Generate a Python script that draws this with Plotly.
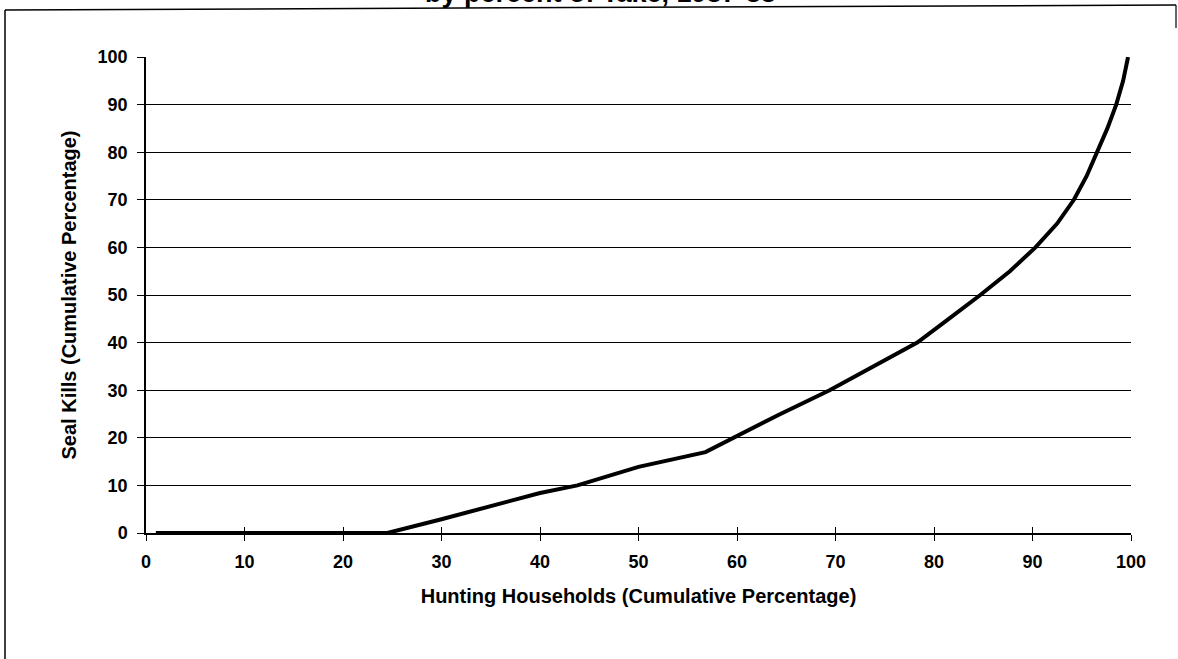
import plotly.graph_objects as go

# Data (cumulative percentages)
households = [1, 24.5, 30, 35, 40, 43.8, 50, 56.8, 59.6, 64.2, 69.4, 73.5, 77.6, 78.3,
              81.5, 84.7, 87.7, 90.3, 92.5, 94.2, 95.5, 96.6, 97.6, 98.5, 99.2, 99.7]
seal_kills = [0, 0, 2.9, 5.6, 8.4, 10, 13.9, 17.0, 20, 24.8, 30, 34.6, 39.1, 40,
              45, 50, 55, 60, 65, 70, 75, 80, 85, 90, 95, 100]

x_ticks = [0, 10, 20, 30, 40, 50, 60, 70, 80, 90, 100]
y_ticks = [0, 10, 20, 30, 40, 50, 60, 70, 80, 90, 100]
y_grid = [10, 20, 30, 40, 50, 60, 70, 80, 90]

title_text = "by percent of Take, 1987-88"
x_title = "Hunting Households (Cumulative Percentage)"
y_title = "Seal Kills (Cumulative Percentage)"

FONT = "Liberation Sans, Arial, sans-serif"

fig = go.Figure()
fig.add_trace(go.Scatter(
    x=households, y=seal_kills, mode="lines",
    line=dict(color="black", width=4),
    cliponaxis=False, showlegend=False, hoverinfo="skip",
))
# invisible trace on overlay axes so they render
fig.add_trace(go.Scatter(x=[0], y=[0], xaxis="x2", yaxis="y2", mode="markers",
                         marker=dict(opacity=0), showlegend=False, hoverinfo="skip"))

W, H = 1178, 659
L, R, T, B = 146, 47, 57, 126

fig.update_layout(
    width=W, height=H,
    margin=dict(l=L, r=R, t=T, b=B),
    paper_bgcolor="white", plot_bgcolor="white",
    font=dict(family=FONT, color="black", size=18),
    xaxis=dict(
        range=[0, 100], tickvals=x_ticks, ticktext=[str(v) for v in x_ticks],
        ticks="outside", ticklen=6, tickwidth=1.3, tickcolor="black",
        showline=True, linecolor="black", linewidth=1.5,
        showgrid=False, zeroline=False,
        tickfont=dict(size=18, family=FONT, weight="bold"),
        ticklabelstandoff=6,
        title=dict(text=x_title, font=dict(size=20, family=FONT, weight="bold"), standoff=18),
    ),
    yaxis=dict(
        range=[0, 100], tickvals=y_ticks, ticktext=[str(v) for v in y_ticks],
        ticks="outside", ticklen=7, tickwidth=1.3, tickcolor="black",
        showline=True, linecolor="black", linewidth=1.5,
        showgrid=False, zeroline=False,
        tickfont=dict(size=18, family=FONT, weight="bold"),
        ticklabelstandoff=6,
        title=dict(text=y_title, font=dict(size=20, family=FONT, weight="bold"), standoff=16),
    ),
    xaxis2=dict(
        overlaying="x", matches="x", anchor="y", side="bottom",
        range=[0, 100], tickvals=x_ticks, showticklabels=False,
        ticks="inside", ticklen=6, tickwidth=1.3, tickcolor="black",
        showgrid=False, showline=False, zeroline=False,
    ),
    yaxis2=dict(
        overlaying="y", matches="y", anchor="x",
        range=[0, 100], tickvals=y_grid, showticklabels=False,
        ticks="", showgrid=True, gridcolor="black", gridwidth=1.3,
        showline=False, zeroline=False,
    ),
)

px = lambda v: (v - L) / (W - L - R)
py = lambda v: (H - B - v) / (H - T - B)

# Title (partly cut off at the top, as in the scanned reference)
fig.add_annotation(
    text=title_text, xref="paper", yref="paper",
    x=px(600), y=py(10),
    xanchor="center", yanchor="bottom", showarrow=False,
    font=dict(size=27, family=FONT, weight="bold", color="black"),
)

# Scanned frame border
fig.add_shape(type="line", xref="paper", yref="paper",
              x0=px(5), y0=py(10), x1=px(1176), y1=py(5),
              line=dict(color="black", width=1.5))
fig.add_shape(type="line", xref="paper", yref="paper",
              x0=px(5), y0=py(10), x1=px(5), y1=py(659),
              line=dict(color="black", width=1.5))
fig.add_shape(type="line", xref="paper", yref="paper",
              x0=px(1176), y0=py(5), x1=px(1176), y1=py(28),
              line=dict(color="black", width=1.2))

fig.write_html(
    "out.html",
    config={"displayModeBar": False},
    post_script="document.body.style.margin='0';document.documentElement.style.overflow='hidden';",
)
